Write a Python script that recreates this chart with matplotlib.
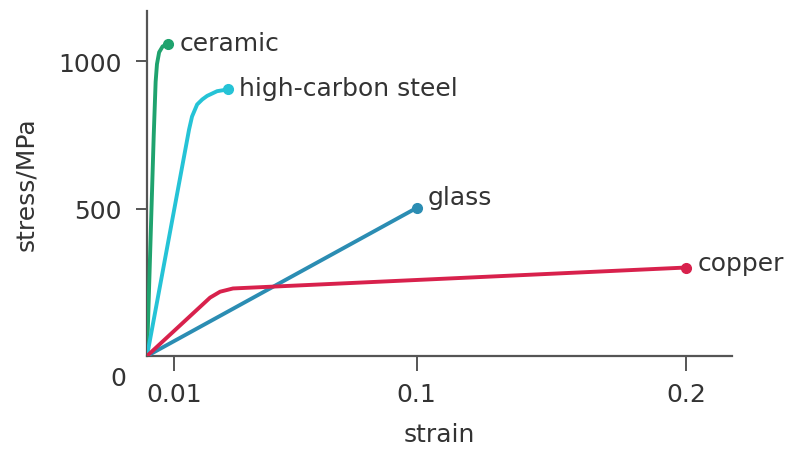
import matplotlib
matplotlib.use('Agg')
import matplotlib.pyplot as plt

# stress-strain curves (strain, stress/MPa)
ceramic_strain = [0, 0.0025, 0.0032, 0.0037, 0.0045, 0.0058, 0.0078]
ceramic_stress = [0, 750, 930, 990, 1030, 1050, 1058]

steel_strain = [0, 0.0156, 0.0167, 0.0186, 0.0205, 0.0223, 0.026, 0.030]
steel_stress = [0, 768, 812, 853, 870, 882, 898, 904]

glass_strain = [0, 0.1]
glass_stress = [0, 502]

copper_strain = [0, 0.0234, 0.0271, 0.0319, 0.2]
copper_stress = [0, 198, 218, 229, 300]

names = ['ceramic', 'high-carbon steel', 'glass', 'copper']
colors = ['#1fa36e', '#25c3d6', '#2b8db3', '#d8214c']
label_dy = [1, 1, 8, 3]

x_ticks = [0.01, 0.1, 0.2]
x_labels = ['0.01', '0.1', '0.2']
y_ticks = [500, 1000]
y_labels = ['500', '1000']

plt.rcParams['font.family'] = ['DejaVu Sans']
txt = '#333333'
axc = '#555555'

fig = plt.figure(figsize=(8.02, 4.52), dpi=100)
ax = fig.add_axes([0.1833, 0.2102, 0.7294, 0.7633])

curves = [(ceramic_strain, ceramic_stress), (steel_strain, steel_stress),
          (glass_strain, glass_stress), (copper_strain, copper_stress)]
for (xs, ys), name, c, dy in zip(curves, names, colors, label_dy):
    ax.plot(xs, ys, color=c, lw=2.8, solid_capstyle='round',
            solid_joinstyle='round', zorder=3)
    ax.plot(xs[-1], ys[-1], 'o', color=c, ms=7, zorder=4)
    ax.annotate(name, (xs[-1], ys[-1]), xytext=(8, dy), textcoords='offset points',
                ha='left', va='center', fontsize=18, color=txt)

ax.set_xlim(0, 0.217)
ax.set_ylim(0, 1170)

for s in ['top', 'right']:
    ax.spines[s].set_visible(False)
for s in ['left', 'bottom']:
    ax.spines[s].set_color(axc)
    ax.spines[s].set_linewidth(1.6)

ax.set_xticks(x_ticks)
ax.set_xticklabels(x_labels)
ax.set_yticks(y_ticks)
ax.set_yticklabels(y_labels)
ax.tick_params(axis='x', direction='out', length=11, width=1.4, color=axc,
               labelsize=18, labelcolor=txt, pad=8)
ax.tick_params(axis='y', direction='out', length=8, width=1.4, color=axc,
               labelsize=18, labelcolor=txt, pad=10)

ax.annotate('0', (0, 0), xytext=(-21, -16), textcoords='offset points',
            ha='center', va='center', fontsize=18, color=txt)

ax.set_xlabel('strain', fontsize=18, color=txt, labelpad=11)
ax.set_ylabel('stress/MPa', fontsize=18, color=txt, labelpad=15)

fig.savefig('out.png', dpi=100, facecolor='white')
